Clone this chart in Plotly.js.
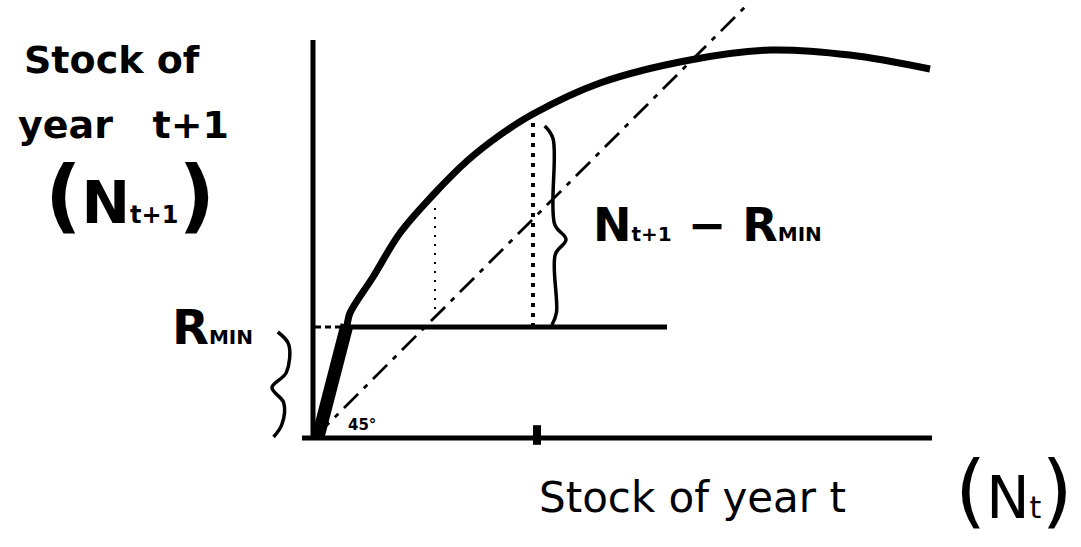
<!DOCTYPE html>
<html>
<head>
<meta charset="utf-8">
<script src="https://cdn.plot.ly/plotly-3.0.1.min.js"></script>
<style>
  html, body { margin: 0; padding: 0; background: #ffffff; }
  #chart { width: 1081px; height: 547px; }
</style>
</head>
<body>
<div id="chart"></div>
<script>
// Stock-recruitment sketch: stock next year against stock this year,
// with the minimum recruitment level and the 45 degree replacement line.

// stock in year t (N_t)
const stockT = [0.6, 6.4, 7.0, 11.6, 17.0, 23.6, 30.4, 37.0, 43.6, 57.0, 75.0, 91.0, 107.0, 123.0];
// stock in year t+1 (N_t+1)
const stockT1 = [0.0, 22.4, 24.8, 32.0, 40.8, 48.4, 55.2, 60.4, 64.6, 70.8, 75.4, 77.4, 76.4, 73.6];

// minimum recruitment level R_MIN
const rMin = 22;
// where the R_MIN line stops on the right
const rMinEnd = 70.4;
// 45 degree replacement line N_t+1 = N_t
const replacementX = [0, 86];
// vertical guides down to R_MIN
const guideX = [24.0, 43.6];
const guideTop = [46.6, 64.6];
// axis extents
const xAxisEnd = 123.4;
const yAxisTop = 79.4;

const K = '#000000';
const traces = [];

function line(x, y, width, dash, shape) {
  traces.push({
    type: 'scatter', mode: 'lines', x: x, y: y, hoverinfo: 'skip',
    line: { color: K, width: width, dash: dash || 'solid', shape: shape || 'linear', smoothing: 1 }
  });
}

// axes
line([-0.4, -0.4], [-0.6, yAxisTop], 5);
line([-2.6, xAxisEnd], [-0.2, -0.2], 5);

// replacement (45 degree) line
line(replacementX, replacementX, 2.8, '20px,8px,5px,8px');

// R_MIN level: dashed stub from the axis, then solid
line([0, stockT[1]], [rMin, rMin], 3, '6px,4px');
line([stockT[1], rMinEnd], [rMin, rMin], 5);

// vertical dotted guides from R_MIN up to the curve
line([guideX[0], guideX[0]], [rMin, guideTop[0]], 2, '2px,7px');
line([guideX[1], guideX[1]], [rMin, guideTop[1]], 4, '4px,6px');

// recruitment curve, with a heavy stroke below R_MIN
line(stockT, stockT1, 7, 'solid', 'spline');
line(stockT.slice(0, 2), stockT1.slice(0, 2), 13);

// tick on the N_t axis under the marked stock
traces.push({
  type: 'scatter', mode: 'markers', x: [guideX[1] + 0.8], y: [0.4], hoverinfo: 'skip',
  marker: { symbol: 'line-ns', size: 14, line: { color: K, width: 8 } }
});

// curly brace between y0 and y1 at xb; dir = +1 points right, -1 points left
function brace(xb, y0, y1, dir, tipFrac, hook, tip, slant) {
  const yt = y0 + (y1 - y0) * tipFrac;
  const xs = function (y) { return xb + slant * (y - yt) / (y1 - y0); };
  const bx = [xs(y1) - dir * hook, xs(y1 - 2.5), xs(yt + 3), xs(yt) + dir * tip,
              xs(yt - 3), xs(y0 + 2.5), xs(y0) - dir * hook * 0.6];
  const by = [y1, y1 - 2.5, yt + 3, yt, yt - 3, y0 + 2.5, y0];
  line(bx, by, 3.5, 'solid', 'spline');
}
brace(48.0, rMin + 0.4, guideTop[1] - 2.4, 1, 0.43, 1.6, 2.2, -0.8);
brace(-6.0, 0, rMin - 1, -1, 0.47, -2.4, 2.6, 1.8);

const sub = function (t, px) { return '<span style="font-size:' + px + 'px">' + t + '</span>'; };
const F = 'DejaVu Sans, sans-serif';

function label(text, x, y, size, weight) {
  return {
    text: text, x: x, y: y, xref: 'x', yref: 'y', showarrow: false,
    xanchor: 'center', yanchor: 'middle',
    font: { family: F, size: size, color: K, weight: weight }
  };
}

const annotations = [
  label('Stock of', -40.6, 75.4, 38, 'bold'),
  label('year&nbsp;&nbsp;&nbsp;t+1', -38.4, 62.4, 38, 'bold'),
  label(sub('(', 80) + 'N' + sub('t+1', 24) + sub(')', 80), -37.0, 48.4, 58, 'bold'),
  label('R' + sub('MIN', 20), -20.6, 22.0, 48, 'bold'),
  label('N' + sub('t+1', 20) + ' \u2212 R' + sub('MIN', 20), 78.4, 42.4, 46, 'bold'),
  label('45\u00b0', 9.4, 2.4, 15, 'bold'),
  label('Stock of year t', 75.4, -12.0, 42, 'normal'),
  label(sub('(', 80) + 'N' + sub('t', 30) + sub(')', 80), 139.8, -10.6, 58, 'normal')
];

const layout = {
  width: 1081, height: 547,
  margin: { l: 0, r: 0, t: 0, b: 0, pad: 0 },
  paper_bgcolor: '#ffffff', plot_bgcolor: '#ffffff',
  showlegend: false,
  xaxis: { range: [-63, 153.2], visible: false, fixedrange: true },
  yaxis: { range: [-22, 87.4], visible: false, fixedrange: true },
  annotations: annotations
};

Plotly.newPlot('chart', traces, layout, { staticPlot: true, displayModeBar: false });
</script>
</body>
</html>
